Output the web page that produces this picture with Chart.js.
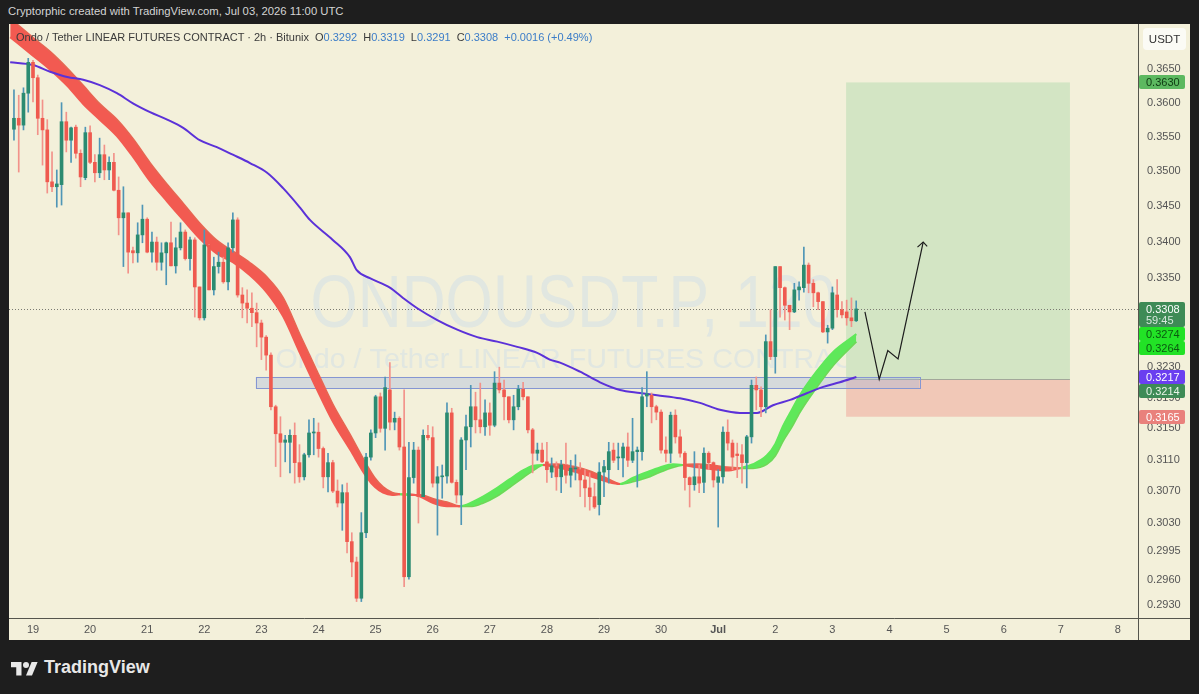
<!DOCTYPE html>
<html>
<head>
<meta charset="utf-8">
<script src="https://cdn.jsdelivr.net/npm/chart.js@4.4.0/dist/chart.umd.min.js"></script>
<style>
  html, body { margin: 0; padding: 0; background: #1e1e1e; width: 1199px; height: 694px; overflow: hidden;
    font-family: "Liberation Sans", Arial, sans-serif; }
  #credit { position: absolute; left: 8px; top: 5px; color: #d4d4d4; font-size: 11.3px; }
  #wrap { position: absolute; left: 9px; top: 24px; width: 1181px; height: 616px; }
  #legend { position: absolute; left: 16px; top: 31px; font-size: 11px; color: #3a3a3a; z-index: 2; white-space: nowrap; }
  #legend .v { color: #3b7cc8; }
  #legend .g { margin-left: 6px; }
  #logo { position: absolute; left: 11px; top: 657px; color: #e8e8e8; font-size: 18px; font-weight: bold;
    display: flex; align-items: center; }
  #logo svg { margin-right: 6px; }
</style>
</head>
<body>
<div id="credit">Cryptorphic created with TradingView.com, Jul 03, 2026 11:00 UTC</div>
<div id="wrap"><canvas id="chart"></canvas></div>
<div id="legend"></div>
<div id="logo">
  <svg width="27" height="18" viewBox="0 0 36 24"><path fill="#e8e8e8" d="M14 22H7V11H0V4h14v18z"/><circle fill="#e8e8e8" cx="20" cy="8" r="4"/><path fill="#e8e8e8" d="M28 22h-8L27.5 4h8L28 22z"/></svg>
  TradingView
</div>
<script>
// 2h candles, first one on Jun 18 16:00 (day 0 = Jun 19)
const firstBar = -1 / 3;
const barStep = 1 / 12;

const opens = [0.3561,0.3577,0.3567,0.3614,0.3660,0.3637,0.3577,0.3560,0.3485,0.3478,
  0.3481,0.3572,0.3545,0.3564,0.3526,0.3491,0.3556,0.3513,0.3498,0.3524,
  0.3502,0.3513,0.3473,0.3434,0.3441,0.3388,0.3385,0.3410,0.3432,0.3386,
  0.3400,0.3372,0.3385,0.3399,0.3367,0.3392,0.3414,0.3377,0.3403,0.3338,
  0.3296,0.3396,0.3334,0.3366,0.3372,0.3345,0.3392,0.3431,0.3327,0.3316,
  0.3309,0.3303,0.3289,0.3270,0.3246,0.3178,0.3143,0.3132,0.3132,0.3141,
  0.3106,0.3088,0.3116,0.3144,0.3145,0.3124,0.3088,0.3106,0.3070,0.3055,
  0.3068,0.3007,0.2982,0.2938,0.3018,0.3113,0.3144,0.3191,0.3150,0.3200,
  0.3158,0.3163,0.3126,0.2964,0.3087,0.3122,0.3063,0.3141,0.3138,0.3080,
  0.3088,0.3089,0.3170,0.3081,0.3065,0.3135,0.3152,0.3178,0.3161,0.3152,
  0.3170,0.3154,0.3209,0.3200,0.3191,0.3161,0.3178,0.3201,0.3191,0.3148,
  0.3118,0.3122,0.3107,0.3094,0.3101,0.3088,0.3103,0.3090,0.3098,0.3097,
  0.3084,0.3074,0.3063,0.3053,0.3094,0.3097,0.3122,0.3112,0.3112,0.3126,
  0.3109,0.3120,0.3120,0.3192,0.3193,0.3178,0.3171,0.3122,0.3118,0.3167,
  0.3139,0.3118,0.3087,0.3078,0.3088,0.3081,0.3118,0.3106,0.3081,0.3088,
  0.3145,0.3131,0.3117,0.3116,0.3106,0.3139,0.3206,0.3200,0.3178,0.3264,
  0.3244,0.3366,0.3337,0.3313,0.3304,0.3334,0.3337,0.3368,0.3343,0.3330,
  0.3318,0.3277,0.3282,0.3327,0.3307,0.3304,0.3296,0.3292];
const highs = [0.3619,0.3611,0.3622,0.3666,0.3663,0.3641,0.3604,0.3575,0.3528,0.3502,
  0.3600,0.3586,0.3564,0.3567,0.3531,0.3564,0.3566,0.3524,0.3548,0.3538,
  0.3521,0.3526,0.3492,0.3478,0.3441,0.3393,0.3427,0.3452,0.3434,0.3414,
  0.3407,0.3399,0.3400,0.3428,0.3406,0.3427,0.3417,0.3407,0.3406,0.3338,
  0.3417,0.3397,0.3379,0.3386,0.3379,0.3399,0.3441,0.3434,0.3337,0.3334,
  0.3330,0.3316,0.3293,0.3272,0.3249,0.3180,0.3165,0.3141,0.3148,0.3157,
  0.3129,0.3118,0.3161,0.3163,0.3157,0.3126,0.3118,0.3109,0.3084,0.3078,
  0.3080,0.3018,0.2988,0.3043,0.3118,0.3148,0.3193,0.3196,0.3217,0.3236,
  0.3171,0.3165,0.3200,0.3132,0.3132,0.3126,0.3148,0.3154,0.3152,0.3101,
  0.3103,0.3183,0.3176,0.3084,0.3138,0.3167,0.3206,0.3197,0.3209,0.3187,
  0.3183,0.3224,0.3230,0.3213,0.3191,0.3193,0.3206,0.3210,0.3191,0.3150,
  0.3131,0.3131,0.3132,0.3112,0.3107,0.3109,0.3131,0.3109,0.3116,0.3106,
  0.3097,0.3093,0.3080,0.3106,0.3109,0.3132,0.3131,0.3131,0.3131,0.3144,
  0.3163,0.3126,0.3203,0.3224,0.3196,0.3180,0.3174,0.3139,0.3171,0.3174,
  0.3148,0.3120,0.3088,0.3120,0.3103,0.3125,0.3120,0.3107,0.3097,0.3152,
  0.3161,0.3135,0.3131,0.3129,0.3141,0.3213,0.3217,0.3204,0.3273,0.3307,
  0.3366,0.3366,0.3338,0.3313,0.3343,0.3345,0.3393,0.3371,0.3348,0.3331,
  0.3318,0.3286,0.3338,0.3348,0.3318,0.3320,0.3323,0.3319];
const lows = [0.3545,0.3499,0.3560,0.3586,0.3601,0.3553,0.3509,0.3469,0.3471,0.3449,
  0.3452,0.3528,0.3513,0.3519,0.3478,0.3488,0.3511,0.3485,0.3491,0.3488,
  0.3488,0.3472,0.3410,0.3366,0.3357,0.3371,0.3372,0.3399,0.3385,0.3372,
  0.3361,0.3361,0.3341,0.3367,0.3357,0.3389,0.3375,0.3361,0.3297,0.3293,
  0.3293,0.3334,0.3327,0.3357,0.3343,0.3334,0.3386,0.3324,0.3296,0.3289,
  0.3284,0.3257,0.3240,0.3226,0.3174,0.3101,0.3088,0.3107,0.3093,0.3080,
  0.3081,0.3084,0.3113,0.3116,0.3113,0.3074,0.3069,0.3068,0.3050,0.3021,
  0.2993,0.2964,0.2934,0.2934,0.3012,0.3109,0.3138,0.3145,0.3122,0.3148,
  0.3148,0.3122,0.2952,0.2961,0.3080,0.3030,0.3063,0.3135,0.3075,0.3015,
  0.3061,0.3080,0.3080,0.3055,0.3028,0.3097,0.3126,0.3144,0.3144,0.3141,
  0.3141,0.3152,0.3196,0.3161,0.3157,0.3148,0.3174,0.3187,0.3144,0.3093,
  0.3109,0.3106,0.3081,0.3087,0.3071,0.3068,0.3080,0.3075,0.3084,0.3063,
  0.3050,0.3046,0.3048,0.3040,0.3063,0.3080,0.3106,0.3097,0.3088,0.3101,
  0.3106,0.3075,0.3109,0.3178,0.3157,0.3161,0.3118,0.3107,0.3106,0.3131,
  0.3113,0.3071,0.3050,0.3071,0.3068,0.3068,0.3097,0.3075,0.3025,0.3080,
  0.3122,0.3097,0.3087,0.3080,0.3074,0.3131,0.3174,0.3165,0.3170,0.3240,
  0.3222,0.3297,0.3293,0.3280,0.3303,0.3320,0.3331,0.3330,0.3311,0.3307,
  0.3276,0.3262,0.3280,0.3297,0.3296,0.3286,0.3284,0.3291];
const closes = [0.3577,0.3567,0.3614,0.3660,0.3637,0.3577,0.3560,0.3485,0.3478,0.3482,
  0.3572,0.3545,0.3563,0.3526,0.3492,0.3556,0.3513,0.3498,0.3524,0.3502,
  0.3513,0.3473,0.3434,0.3441,0.3386,0.3385,0.3410,0.3432,0.3386,0.3400,
  0.3372,0.3385,0.3399,0.3367,0.3392,0.3414,0.3377,0.3403,0.3338,0.3296,
  0.3396,0.3334,0.3366,0.3372,0.3345,0.3392,0.3431,0.3327,0.3316,0.3309,
  0.3303,0.3289,0.3270,0.3246,0.3178,0.3143,0.3132,0.3135,0.3141,0.3106,
  0.3088,0.3116,0.3144,0.3145,0.3124,0.3088,0.3106,0.3070,0.3055,0.3068,
  0.3007,0.2982,0.2938,0.3018,0.3113,0.3144,0.3191,0.3150,0.3203,0.3158,
  0.3163,0.3126,0.2964,0.3087,0.3122,0.3063,0.3141,0.3138,0.3080,0.3088,
  0.3089,0.3170,0.3081,0.3065,0.3135,0.3152,0.3178,0.3161,0.3152,0.3170,
  0.3154,0.3209,0.3200,0.3191,0.3161,0.3178,0.3201,0.3191,0.3148,0.3118,
  0.3122,0.3107,0.3097,0.3102,0.3088,0.3103,0.3090,0.3099,0.3099,0.3084,
  0.3074,0.3063,0.3050,0.3094,0.3101,0.3120,0.3109,0.3113,0.3126,0.3109,
  0.3120,0.3122,0.3191,0.3195,0.3178,0.3171,0.3122,0.3118,0.3167,0.3139,
  0.3118,0.3087,0.3078,0.3088,0.3080,0.3118,0.3106,0.3084,0.3088,0.3145,
  0.3131,0.3113,0.3115,0.3106,0.3139,0.3206,0.3200,0.3178,0.3264,0.3244,
  0.3366,0.3337,0.3313,0.3304,0.3334,0.3338,0.3368,0.3343,0.3330,0.3318,
  0.3277,0.3282,0.3330,0.3307,0.3300,0.3296,0.3292,0.3308];

// ribbon (fast / slow average)
const ribbonDays = [-0.40,0,0.30,0.60,0.88,1.17,1.47,1.75,2.05,2.35,
  2.63,2.92,3.22,3.50,3.80,4.10,4.38,4.68,4.97,5.25,
  5.55,5.85,5.99,6.13,6.29,6.43,6.60,6.78,7.01,7.25,
  7.48,7.69,7.88,8.13,8.35,8.58,8.76,8.93,9.18,9.46,
  9.75,10.05,10.28,10.51,10.75,10.98,11.21,11.38,11.63,11.86,
  12.15,12.38,12.61,12.85,13.00,13.13,13.29,13.43,13.73,14.01,14.42];
const emaFast = [0.3698,0.3670,0.3649,0.3625,0.3598,0.3575,0.3551,0.3521,0.3486,0.3457,
  0.3431,0.3405,0.3384,0.3372,0.3354,0.3330,0.3298,0.3248,0.3201,0.3159,
  0.3123,0.3087,0.3075,0.3068,0.3065,0.3066,0.3066,0.3063,0.3055,0.3051,
  0.3051,0.3056,0.3063,0.3074,0.3085,0.3096,0.3102,0.3103,0.3100,0.3095,
  0.3089,0.3082,0.3079,0.3087,0.3094,0.3100,0.3104,0.3103,0.3100,0.3098,
  0.3096,0.3099,0.3104,0.3115,0.3130,0.3152,0.3174,0.3193,0.3225,0.3250,0.3274];
const emaSlow = [0.3726,0.3697,0.3676,0.3651,0.3625,0.3598,0.3575,0.3547,0.3512,0.3481,
  0.3454,0.3426,0.3402,0.3387,0.3371,0.3351,0.3323,0.3272,0.3225,0.3181,
  0.3142,0.3102,0.3086,0.3075,0.3068,0.3066,0.3065,0.3065,0.3060,0.3056,
  0.3051,0.3051,0.3055,0.3064,0.3075,0.3087,0.3096,0.3103,0.3104,0.3101,
  0.3095,0.3086,0.3079,0.3082,0.3087,0.3094,0.3100,0.3103,0.3104,0.3103,
  0.3100,0.3099,0.3099,0.3104,0.3115,0.3133,0.3152,0.3171,0.3204,0.3232,0.3264];

// long average (purple)
const maDays = [-0.40,0,0.30,0.60,0.88,1.17,1.47,1.75,2.05,2.35,
  2.63,2.92,3.22,3.50,3.80,4.10,4.38,4.68,4.85,5.25,
  5.55,5.67,5.90,6.25,6.48,6.73,7.08,7.43,7.78,8.13,
  8.48,8.83,9.05,9.23,9.58,9.93,10.28,10.63,10.93,11.33,
  11.68,12.03,12.38,12.68,12.96,13.26,13.56,13.84,14.13,14.42];
const maLong = [0.3660,0.3656,0.3646,0.3638,0.3634,0.3626,0.3614,0.3599,0.3586,0.3575,
  0.3563,0.3545,0.3535,0.3524,0.3512,0.3498,0.3476,0.3448,0.3431,0.3403,
  0.3379,0.3361,0.3350,0.3337,0.3323,0.3309,0.3293,0.3280,0.3270,0.3264,
  0.3257,0.3249,0.3240,0.3236,0.3224,0.3210,0.3200,0.3196,0.3193,0.3189,
  0.3183,0.3174,0.3170,0.3170,0.3180,0.3187,0.3196,0.3204,0.3210,0.3217];

// drawings
const zoneDays = [3.90, 15.52];
const zonePrices = [0.3202, 0.3217];
const boxDays = [14.24, 18.16];
const targetPrice = 0.3630, entryPrice = 0.3214, stopPrice = 0.3165;
const arrowDays = [14.57, 14.82, 14.97, 15.15, 15.59];
const arrowPrices = [0.3304, 0.3214, 0.3252, 0.3241, 0.3400];
const headDays = [15.49, 15.59, 15.66];
const headPrices = [0.3393, 0.3400, 0.3394];

const dayLabels = ['19','20','21','22','23','24','25','26','27','28','29','30','Jul','2','3','4','5','6','7','8'];
const yTicks = [0.3650,0.3600,0.3550,0.3500,0.3450,0.3400,0.3350,0.3300,0.3270,0.3230,0.3190,0.3150,0.3110,0.3070,0.3030,0.2995,0.2960,0.2930];
const watermark = ['ONDOUSDT.P, 120', 'Ondo / Tether LINEAR FUTURES CONTRACT'];

const last = closes.length - 1;
const lastPrice = closes[last];
const priceTags = [
  { v: targetPrice, bg: '#5cb860', fg: '#0f3a12' },
  { v: lastPrice, bg: '#3e8b56', fg: '#ffffff', sub: '59:45' },
  { v: emaFast[emaFast.length - 1], bg: '#22e226', fg: '#0b5a10' },
  { v: emaSlow[emaSlow.length - 1], bg: '#22e226', fg: '#0b5a10' },
  { v: maLong[maLong.length - 1], bg: '#6a3ff0', fg: '#ffffff' },
  { v: entryPrice, bg: '#3e8b56', fg: '#e8f5e8' },
  { v: stopPrice, bg: '#e9817c', fg: '#ffffff' }
];

const FONT = '"Liberation Sans", Arial, sans-serif';
const UP = '#2b8b71', DOWN = '#ef5a4f', UP_WICK = '#4f96b6', DOWN_WICK = '#f2928a';
const RIB_RED = '#f25a51', RIB_GREEN = '#5fe85a';

// legend line
const chg = closes[last] - closes[last - 1];
document.getElementById('legend').innerHTML =
  'Ondo / Tether LINEAR FUTURES CONTRACT · 2h · Bitunix' +
  '<span class="g">O<span class="v">' + opens[last].toFixed(4) + '</span></span>' +
  '<span class="g">H<span class="v">' + highs[last].toFixed(4) + '</span></span>' +
  '<span class="g">L<span class="v">' + lows[last].toFixed(4) + '</span></span>' +
  '<span class="g">C<span class="v">' + closes[last].toFixed(4) + '</span></span>' +
  '<span class="g v">+' + chg.toFixed(4) + ' (+' + (chg / closes[last - 1] * 100).toFixed(2) + '%)</span>';

const t = i => firstBar + i * barStep;
const isUp = i => closes[i] >= opens[i];

function fitText(g, text, cx, base, size, width) {
  g.font = size + 'px ' + FONT;
  const w = g.measureText(text).width;
  g.save();
  g.translate(cx, base);
  g.scale(width / w, 1);
  g.fillText(text, 0, 0);
  g.restore();
}

const drawings = {
  id: 'drawings',
  beforeDraw(c) {
    const g = c.ctx;
    g.save();
    g.fillStyle = '#f3f0da';
    g.fillRect(0, 0, c.width, c.height);
    g.restore();
  },
  beforeDatasetsDraw(c) {
    const g = c.ctx, a = c.chartArea, x = c.scales.x, y = c.scales.y;
    g.save();
    g.beginPath();
    g.rect(a.left, a.top, a.right - a.left, a.bottom - a.top);
    g.clip();

    // watermark
    const cx = (a.left + a.right) / 2;
    g.fillStyle = 'rgba(188,213,238,0.32)';
    g.textAlign = 'center';
    g.textBaseline = 'alphabetic';
    fitText(g, watermark[0], cx, 303, 75, 526);
    fitText(g, watermark[1], cx, 344, 28, 596);

    // long position box
    const bx0 = x.getPixelForValue(boxDays[0]), bx1 = x.getPixelForValue(boxDays[1]);
    const yT = y.getPixelForValue(targetPrice), yE = y.getPixelForValue(entryPrice), yS = y.getPixelForValue(stopPrice);
    g.fillStyle = '#d3e5c4';
    g.fillRect(bx0, yT, bx1 - bx0, yE - yT);
    g.fillStyle = '#f1c8b7';
    g.fillRect(bx0, yE, bx1 - bx0, yS - yE);
    g.strokeStyle = '#a3a79a';
    g.lineWidth = 1;
    g.beginPath();
    g.moveTo(bx0, Math.round(yE) + 0.5);
    g.lineTo(bx1, Math.round(yE) + 0.5);
    g.stroke();

    // support zone
    const zx0 = x.getPixelForValue(zoneDays[0]), zx1 = x.getPixelForValue(zoneDays[1]);
    const zy0 = y.getPixelForValue(zonePrices[1]), zy1 = y.getPixelForValue(zonePrices[0]);
    g.fillStyle = 'rgba(160,180,222,0.36)';
    g.fillRect(zx0, zy0, zx1 - zx0, zy1 - zy0);
    g.strokeStyle = '#8596d2';
    g.strokeRect(Math.round(zx0) + 0.5, Math.round(zy0) + 0.5, Math.round(zx1 - zx0), Math.round(zy1 - zy0));

    // last price line
    const yl = Math.round(y.getPixelForValue(lastPrice)) + 0.5;
    g.strokeStyle = '#7a7a72';
    g.setLineDash([1, 2]);
    g.beginPath();
    g.moveTo(a.left, yl);
    g.lineTo(a.right, yl);
    g.stroke();
    g.restore();
  },
  afterDraw(c) {
    const g = c.ctx, a = c.chartArea, y = c.scales.y;
    g.save();
    // pane borders
    g.strokeStyle = '#55554d';
    g.lineWidth = 1;
    g.beginPath();
    g.moveTo(0, a.bottom + 0.5); g.lineTo(c.width, a.bottom + 0.5);
    g.moveTo(a.right + 0.5, 0); g.lineTo(a.right + 0.5, c.height);
    g.stroke();

    // currency box
    g.fillStyle = '#fbfbf5';
    g.beginPath();
    if (g.roundRect) g.roundRect(a.right + 5, 4, 43, 22, 4); else g.rect(a.right + 5, 4, 43, 22);
    g.fill();
    g.fillStyle = '#333';
    g.font = '11.5px ' + FONT;
    g.textAlign = 'center';
    g.textBaseline = 'middle';
    g.fillText('USDT', a.right + 26.5, 15.5);

    // price tags on the axis
    g.textAlign = 'left';
    g.font = '11px ' + FONT;
    let prevBottom = -1e9;
    priceTags.slice().sort((p, q) => q.v - p.v).forEach(tag => {
      const h = tag.sub ? 25 : 14;
      const top = Math.max(Math.round(y.getPixelForValue(tag.v)) - 7, prevBottom);
      g.fillStyle = tag.bg;
      g.beginPath();
      if (g.roundRect) g.roundRect(a.right + 1, top, 46, h, 2); else g.rect(a.right + 1, top, 46, h);
      g.fill();
      g.fillStyle = tag.fg;
      g.fillText(tag.v.toFixed(4), a.right + 8, top + 7.5);
      if (tag.sub) {
        g.fillStyle = 'rgba(255,255,255,0.8)';
        g.fillText(tag.sub, a.right + 8, top + 19);
      }
      prevBottom = top + h;
    });
    g.restore();
  }
};

const ribbonColor = ctx => {
  const i = ctx.p0DataIndex;
  return emaFast[i] + emaFast[i + 1] >= emaSlow[i] + emaSlow[i + 1] ? RIB_GREEN : RIB_RED;
};

new Chart(document.getElementById('chart'), {
  type: 'bar',
  data: {
    datasets: [
      {
        type: 'line',
        data: maDays.map((d, i) => ({ x: d, y: maLong[i] })),
        borderColor: '#5b31d8',
        borderWidth: 2,
        pointRadius: 0,
        cubicInterpolationMode: 'monotone',
        order: 3
      },
      {
        type: 'line',
        data: ribbonDays.map((d, i) => ({ x: d, y: emaFast[i] })),
        borderWidth: 2,
        pointRadius: 0,
        cubicInterpolationMode: 'monotone',
        segment: { borderColor: ribbonColor },
        fill: { target: 2, above: RIB_GREEN, below: RIB_RED },
        order: 4
      },
      {
        type: 'line',
        data: ribbonDays.map((d, i) => ({ x: d, y: emaSlow[i] })),
        borderWidth: 2,
        pointRadius: 0,
        cubicInterpolationMode: 'monotone',
        segment: { borderColor: ribbonColor },
        fill: false,
        order: 4
      },
      {
        data: opens.map((o, i) => ({ x: t(i), y: [lows[i], highs[i]] })),
        backgroundColor: opens.map((o, i) => isUp(i) ? UP_WICK : DOWN_WICK),
        barThickness: 1,
        grouped: false,
        order: 2
      },
      {
        data: opens.map((o, i) => ({ x: t(i), y: [Math.min(o, closes[i]), Math.max(o, closes[i])] })),
        backgroundColor: opens.map((o, i) => isUp(i) ? UP : DOWN),
        barThickness: 3,
        minBarLength: 1,
        grouped: false,
        order: 1
      },
      {
        type: 'line',
        data: arrowDays.map((d, i) => ({ x: d, y: arrowPrices[i] })),
        borderColor: '#1d1d1d',
        borderWidth: 1.2,
        pointRadius: 0,
        tension: 0,
        order: 0
      },
      {
        type: 'line',
        data: headDays.map((d, i) => ({ x: d, y: headPrices[i] })),
        borderColor: '#1d1d1d',
        borderWidth: 1.2,
        pointRadius: 0,
        tension: 0,
        order: 0
      }
    ]
  },
  options: {
    responsive: true,
    maintainAspectRatio: false,
    animation: false,
    events: [],
    layout: { padding: 0 },
    plugins: { legend: { display: false }, tooltip: { enabled: false } },
    scales: {
      x: {
        type: 'linear',
        min: -0.4203,
        max: 19.352,
        offset: false,
        bounds: 'data',
        grid: { display: false, drawTicks: false },
        border: { display: false },
        afterBuildTicks: s => { s.ticks = dayLabels.map((_, i) => ({ value: i })); },
        afterFit: s => { s.height = 22; s.paddingLeft = 0; s.paddingRight = 0; },
        ticks: {
          autoSkip: false,
          maxRotation: 0,
          padding: 5,
          color: '#555',
          callback: (v, i) => dayLabels[i],
          font: c => ({ family: FONT, size: 11, weight: dayLabels[c.index] === 'Jul' ? 'bold' : 'normal' })
        }
      },
      y: {
        type: 'logarithmic',
        position: 'right',
        min: 0.29143,
        max: 0.3718,
        bounds: 'data',
        beginAtZero: false,
        grid: { display: false, drawTicks: false },
        border: { display: false },
        afterBuildTicks: s => { s.ticks = yTicks.map(v => ({ value: v })); },
        afterFit: s => { s.width = 52; s.paddingTop = 0; s.paddingBottom = 0; },
        ticks: {
          autoSkip: false,
          padding: 9,
          color: '#555',
          font: { family: FONT, size: 11 },
          callback: v => v.toFixed(4)
        }
      }
    }
  },
  plugins: [drawings]
});
</script>
</body>
</html>
